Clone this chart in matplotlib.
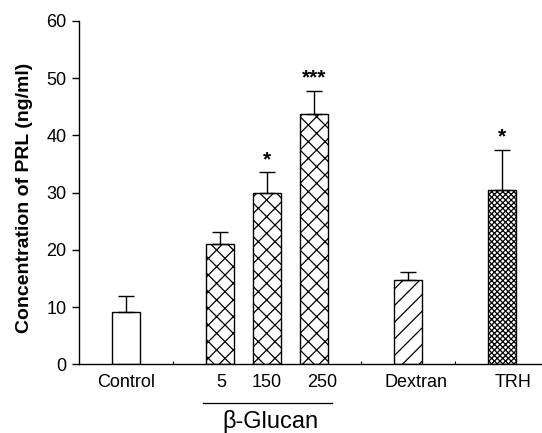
import matplotlib
matplotlib.use("Agg")
import matplotlib.pyplot as plt

# Data
categories = ["Control", "5", "150", "250", "Dextran", "TRH"]
positions = [0, 2, 3, 4, 6, 8]
values = [9.1, 21.0, 30.0, 43.7, 14.8, 30.5]
errors = [2.8, 2.1, 3.6, 4.1, 1.3, 7.0]
stars = ["", "", "*", "***", "", "*"]
hatches = ["", "xx", "xx", "xx", "//", "xxxxxx"]
label_offsets = [0.0, 0.02, 0.0, 0.18, 0.17, 0.22]
yticks = [0, 10, 20, 30, 40, 50, 60]

plt.rcParams['font.family'] = ['Liberation Sans', 'DejaVu Sans']
plt.rcParams['hatch.linewidth'] = 0.9

fig = plt.figure(figsize=(5.42, 4.33), dpi=100)
ax = fig.add_axes([0.1458, 0.1586, 0.852, 0.7934])

for p, v, e, h in zip(positions, values, errors, hatches):
    ax.bar(p, v, width=0.6, color="white", edgecolor="black", linewidth=1.0, hatch=h, zorder=2)
    ax.errorbar(p, v, yerr=[[0], [e]], fmt="none", ecolor="black", elinewidth=1.0,
                capsize=5.5, capthick=1.0, zorder=3)

for p, v, e, s in zip(positions, values, errors, stars):
    if s:
        ax.annotate(s, (p, v + e), xytext=(0, 2), textcoords="offset points",
                    ha="center", va="bottom", fontsize=15, fontweight="bold")

ax.set_xlim(-1.0, 8.82)
ax.set_ylim(0, 60)
ax.set_yticks(yticks)
ax.set_yticklabels([str(t) for t in yticks], fontsize=13)
ax.tick_params(axis="y", direction="out", length=5, width=1, pad=4)
ax.set_xticks([p + o for p, o in zip(positions, label_offsets)])
ax.set_xticklabels(categories, fontsize=13)
ax.tick_params(axis="x", length=0, pad=7)
ax.set_xticks([1, 5, 7], minor=True)
ax.tick_params(axis="x", which="minor", direction="in", length=2, width=0.8)

for side in ["top", "right"]:
    ax.spines[side].set_visible(False)
ax.spines["left"].set_linewidth(1.0)
ax.spines["bottom"].set_linewidth(1.0)

ax.set_ylabel("Concentration of PRL (ng/ml)", fontsize=14, fontweight="bold")
ax.yaxis.set_label_coords(-0.10, 0.485)

# beta-Glucan group bracket
ax.plot([1.63, 4.39], [-6.75, -6.75], color="black", linewidth=0.9, clip_on=False)
ax.text(3.06, -10.0, "β-Glucan", ha="center", va="center", fontsize=17, clip_on=False)

fig.savefig("out.png", dpi=100)
